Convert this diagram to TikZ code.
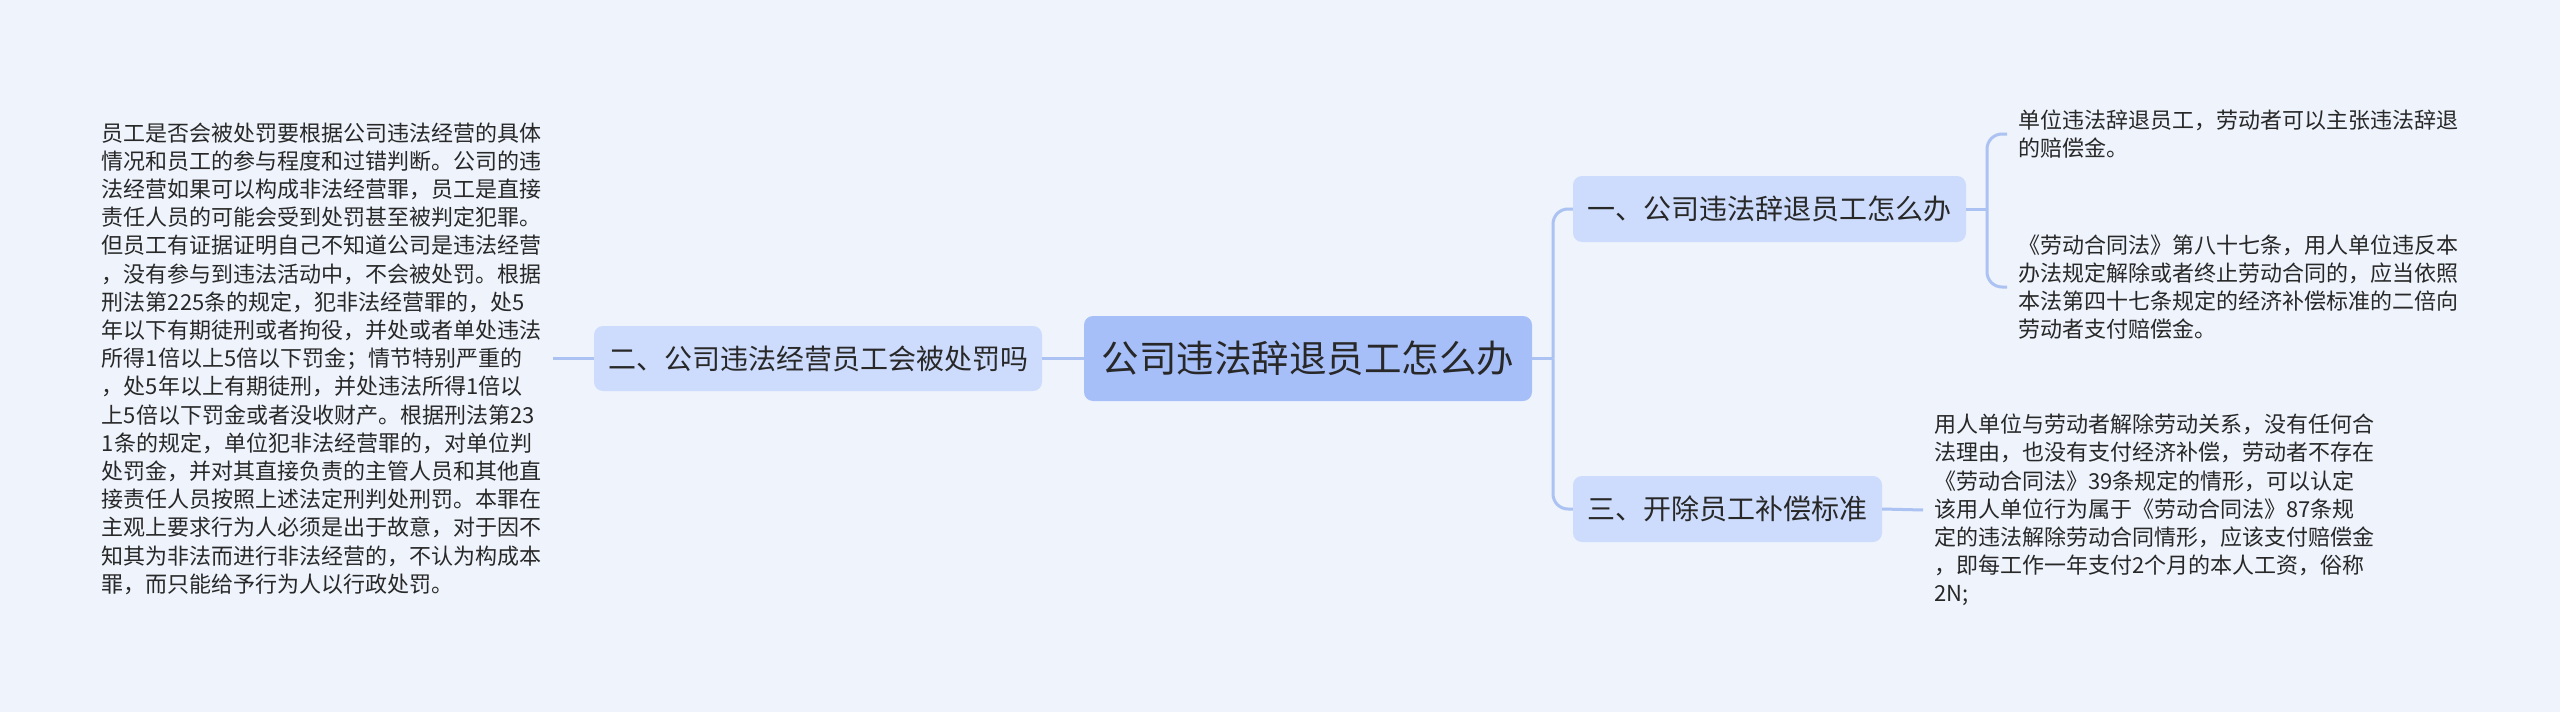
\documentclass[tikz,border=0pt]{standalone}
\usepackage{fontspec}
\setmainfont{Noto Sans CJK SC}
\definecolor{bg}{RGB}{238,243,252}
\definecolor{rootfill}{RGB}{167,191,249}
\definecolor{lvfill}{RGB}{205,220,252}
\definecolor{linec}{RGB}{172,194,242}
\definecolor{txt}{RGB}{40,40,40}
\begin{document}
\begin{tikzpicture}[x=1pt,y=-1pt,
  rootbox/.style={draw=none,fill=rootfill,rounded corners=9pt,minimum width=448pt,minimum height=85pt,inner sep=0pt,text=txt,font=\fontsize{37.5}{41}\selectfont},
  lvbox/.style={draw=none,fill=lvfill,rounded corners=9pt,minimum height=66pt,inner sep=0pt,text=txt,font=\fontsize{28}{32}\selectfont},
  leaf/.style={align=left,inner xsep=11pt,inner ysep=0pt,text=txt,font=\fontsize{22}{28.2}\selectfont},
  conn/.style={draw=linec,line width=3pt},
]
\useasboundingbox (0,0) rectangle (2560,712);
\fill[bg] (0,0) rectangle (2560,712);

\node[rootbox] (root) at (1308,358.5) {公司违法辞退员工怎么办};
\node[lvbox,minimum width=448pt,minimum height=65pt] (n2) at (818,358.5) {二、公司违法经营员工会被处罚吗};
\node[lvbox,minimum width=393pt] (n1) at (1769.5,209) {一、公司违法辞退员工怎么办};
\node[lvbox,minimum width=309pt] (n3) at (1727.5,509) {三、开除员工补偿标准};

\node[leaf,anchor=east] (t2) at (553,358.5) {员工是否会被处罚要根据公司违法经营的具体\\
情况和员工的参与程度和过错判断。公司的违\\
法经营如果可以构成非法经营罪，员工是直接\\
责任人员的可能会受到处罚甚至被判定犯罪。\\
但员工有证据证明自己不知道公司是违法经营\\
，没有参与到违法活动中，不会被处罚。根据\\
刑法第225条的规定，犯非法经营罪的，处5\\
年以下有期徒刑或者拘役，并处或者单处违法\\
所得1倍以上5倍以下罚金；情节特别严重的\\
，处5年以上有期徒刑，并处违法所得1倍以\\
上5倍以下罚金或者没收财产。根据刑法第23\\
1条的规定，单位犯非法经营罪的，对单位判\\
处罚金，并对其直接负责的主管人员和其他直\\
接责任人员按照上述法定刑判处刑罚。本罪在\\
主观上要求行为人必须是出于故意，对于因不\\
知其为非法而进行非法经营的，不认为构成本\\
罪，而只能给予行为人以行政处罚。};

\node[leaf,anchor=west] (t11) at (2007,134) {单位违法辞退员工，劳动者可以主张违法辞退\\
的赔偿金。};
\node[leaf,anchor=west] (t12) at (2007,287) {《劳动合同法》第八十七条，用人单位违反本\\
办法规定解除或者终止劳动合同的，应当依照\\
本法第四十七条规定的经济补偿标准的二倍向\\
劳动者支付赔偿金。};

\node[leaf,anchor=west] (t3) at (1923,510) {用人单位与劳动者解除劳动关系，没有任何合\\
法理由，也没有支付经济补偿，劳动者不存在\\
《劳动合同法》39条规定的情形，可以认定\\
该用人单位行为属于《劳动合同法》87条规\\
定的违法解除劳动合同情形，应该支付赔偿金\\
，即每工作一年支付2个月的本人工资，俗称\\
2N;};

\coordinate (j1) at (1553,358.5);
\coordinate (j2) at (1987,209);

\draw[conn] (root.west) -- (n2.east);
\draw[conn] (n2.west) -- (t2.east);
\draw[conn] (root.east) -- (j1);
\draw[conn,rounded corners=15pt] (j1) |- (n1.west);
\draw[conn,rounded corners=15pt] (j1) |- (n3.west);
\draw[conn] (n1.east) -- (j2);
\draw[conn,rounded corners=15pt] (j2) |- (t11.west);
\draw[conn,rounded corners=15pt] (j2) |- (t12.west);
\draw[conn] (n3.east) -- (t3.west);
\end{tikzpicture}
\end{document}
